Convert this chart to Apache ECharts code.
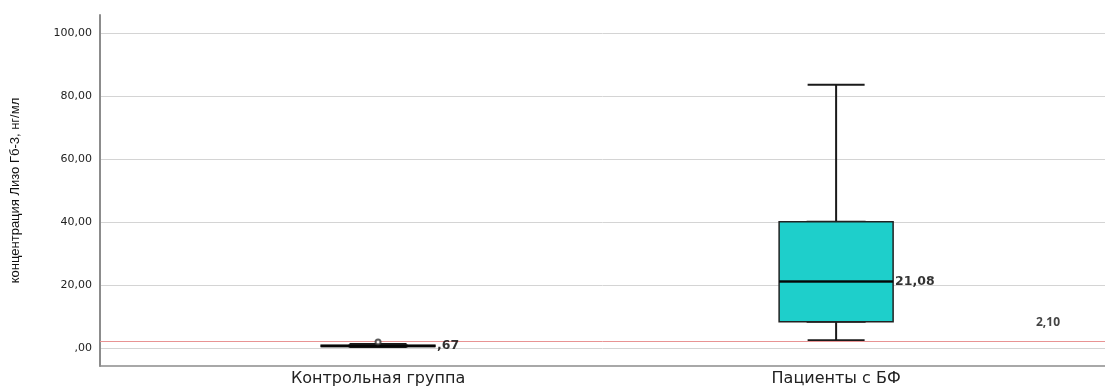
<!DOCTYPE html>
<html>
<head>
<meta charset="utf-8">
<script src="https://cdn.jsdelivr.net/npm/echarts@6/dist/echarts.min.js"></script>
<style>
  html, body { margin: 0; padding: 0; background: #fff; }
  #box { width: 1105px; height: 387px; }
</style>
</head>
<body>
<div id="box"></div>
<script>
// группы (позиция по оси x = номер группы)
var groups = ["Контрольная группа", "Пациенты с БФ"];
var groupPos = [1, 2];
// min, Q1, медиана, Q3, max
var boxMin = [0.30, 2.5];
var boxQ1 = [0.50, 8.35];
var boxMedian = [0.67, 21.08];
var boxQ3 = [0.90, 40.1];
var boxMax = [1.30, 83.6];
// выброс контрольной группы
var outliers = [[1, 1.9]];
// референсная линия
var refValue = 2.10;
var yTicks = [0, 20, 40, 60, 80, 100];

// SPSS-формат: 0,67 -> ,67
function fmt(v) {
  var s = v.toFixed(2).replace('.', ',');
  if (s.indexOf('0,') === 0) s = s.slice(1);
  return s;
}

// узкий ящик — только для усов (колпачки в 2 раза уже ящика)
var whiskerData = groupPos.map(function (x, i) {
  return [x, boxMin[i], boxQ1[i], boxMedian[i], boxQ3[i], boxMax[i]];
});
// широкий ящик Q1..Q3 поверх
var boxData = groupPos.map(function (x, i) {
  return [x, boxQ1[i], boxQ1[i], boxMedian[i], boxQ3[i], boxQ3[i]];
});
var medianData = groupPos.map(function (x, i) {
  return [x, boxMedian[i]];
});

var xMin = 0.393, xMax = 2.587;

var chart = echarts.init(document.getElementById('box'));
chart.setOption({
  animation: false,
  grid: { left: 100, right: 0, top: 15, bottom: 21 },
  xAxis: [
    {
      type: 'value',
      min: xMin,
      max: xMax,
      axisLine: { show: true, onZero: false, lineStyle: { color: '#8c8c8c', width: 1.5 } },
      axisTick: { show: false, customValues: groupPos },
      splitLine: { show: false },
      axisLabel: {
        customValues: groupPos,
        margin: 5,
        fontFamily: 'DejaVu Sans',
        fontSize: 16,
        color: '#222',
        formatter: function (v) { return groups[Math.round(v) - 1]; }
      }
    },
    {
      // вторая (скрытая) ось, чтобы ящики не раздвигались как группа
      type: 'value',
      min: xMin,
      max: xMax,
      show: false
    }
  ],
  yAxis: {
    type: 'value',
    min: -5.7,
    max: 105.7,
    name: 'концентрация Лизо Гб-3, нг/мл',
    nameLocation: 'middle',
    nameGap: 78,
    nameTextStyle: {
      fontFamily: 'Liberation Sans Narrow, Liberation Sans',
      fontSize: 13,
      color: '#111'
    },
    axisLine: { show: true, onZero: false, lineStyle: { color: '#8c8c8c', width: 2 } },
    axisTick: { show: false, customValues: yTicks },
    splitLine: { show: true, lineStyle: { color: '#d4d4d4', width: 1 } },
    axisLabel: {
      customValues: yTicks,
      margin: 8,
      fontFamily: 'DejaVu Sans',
      fontSize: 11,
      color: '#222',
      formatter: fmt
    }
  },
  series: [
    {
      name: 'whisker',
      type: 'boxplot',
      layout: 'horizontal',
      xAxisIndex: 1,
      boxWidth: [57, 57],
      data: whiskerData,
      itemStyle: { color: 'rgba(0,0,0,0)', borderColor: '#1a1a1a', borderWidth: 2 },
      z: 2,
      markLine: {
        silent: true,
        symbol: 'none',
        lineStyle: { color: '#e89393', type: 'solid', width: 1 },
        label: {
          position: 'insideEndTop',
          distance: [45, 13],
          formatter: function () { return fmt(refValue); },
          fontFamily: 'Open Sans, DejaVu Sans',
          fontWeight: 'bold',
          fontSize: 12,
          color: '#444'
        },
        data: [{ yAxis: refValue }]
      }
    },
    {
      name: 'box',
      type: 'boxplot',
      layout: 'horizontal',
      xAxisIndex: 0,
      boxWidth: [114, 114],
      data: boxData,
      itemStyle: { color: '#1ecfcb', borderColor: '#222', borderWidth: 1.5 },
      z: 3
    },
    {
      name: 'median',
      type: 'scatter',
      symbol: 'rect',
      symbolSize: [114, 2.5],
      itemStyle: { color: '#000' },
      data: medianData,
      label: {
        show: true,
        position: 'right',
        distance: 2,
        fontFamily: 'DejaVu Sans',
        fontWeight: 'bold',
        fontSize: 12.5,
        color: '#000',
        formatter: function (p) { return fmt(p.value[1]); }
      },
      z: 5
    },
    {
      name: 'outlier',
      type: 'scatter',
      symbol: 'emptyCircle',
      symbolSize: 5,
      itemStyle: { color: '#333', borderColor: '#333', borderWidth: 1 },
      data: outliers,
      z: 6
    }
  ]
});
</script>
</body>
</html>
